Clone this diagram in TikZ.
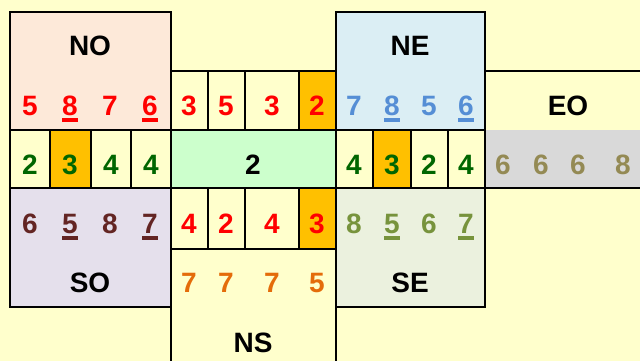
\documentclass[tikz,border=0pt]{standalone}
\usepackage{fontspec}
\setmainfont{Liberation Sans}
\definecolor{paper}{HTML}{FFFFCC}
\definecolor{nofill}{HTML}{FDE9D9}
\definecolor{nefill}{HTML}{DBEEF4}
\definecolor{sofill}{HTML}{E5E0EC}
\definecolor{sefill}{HTML}{EBF1DE}
\definecolor{midfill}{HTML}{CCFFCC}
\definecolor{hit}{HTML}{FFC000}
\definecolor{eofill}{HTML}{D9D9D9}
\definecolor{nored}{HTML}{FF0000}
\definecolor{leaf}{HTML}{006600}
\definecolor{neblue}{HTML}{558ED5}
\definecolor{sobrown}{HTML}{632523}
\definecolor{seolive}{HTML}{77933C}
\definecolor{eokhaki}{HTML}{948A54}
\definecolor{nsorange}{HTML}{E46C0A}
\newcommand\ulnum[1]{\setbox0=\hbox{#1}\rlap{\rule[-6.5pt]{\wd0}{3.5pt}}\box0}
\tikzset{
  cell/.style={draw=black, line width=2.2pt, fill=#1},
  cell/.default=paper,
  edge/.style={draw=black, line width=2.2pt},
  num/.style={anchor=base, inner sep=0pt, text=#1, font=\fontsize{28}{30}\selectfont\bfseries},
  num/.default=black,
  lbl/.style={anchor=base, inner sep=0pt, font=\fontsize{28}{30}\selectfont\bfseries}
}
\begin{document}
\begin{tikzpicture}[x=1pt,y=-1pt]
    \useasboundingbox (0,0) rectangle (640,361);
    \fill[paper] (0,0) rectangle (640,361);
    % east strip
    \fill[eofill] (485,130) rectangle (640,188);
    \draw[edge] (485,71) -- (640,71);
    \draw[edge] (485,188) -- (640,188);
    \draw[edge] (171,249) -- (171,366);
    \draw[edge] (336,249) -- (336,366);
    % corner boxes
    \draw[cell=nofill] (10,12) rectangle (171,130);
    \draw[cell=nefill] (336,12) rectangle (485,130);
    \draw[cell=sofill] (10,188) rectangle (171,307);
    \draw[cell=sefill] (336,188) rectangle (485,307);
    % north row
    \draw[cell] (171,71) rectangle (208,130);
    \draw[cell] (208,71) rectangle (245,130);
    \draw[cell] (245,71) rectangle (299,130);
    \draw[cell=hit] (299,71) rectangle (336,130);
    % west row
    \draw[cell] (10,130) rectangle (50,188);
    \draw[cell=hit] (50,130) rectangle (91,188);
    \draw[cell] (91,130) rectangle (131,188);
    \draw[cell] (131,130) rectangle (171,188);
    % centre
    \draw[cell=midfill] (171,130) rectangle (336,188);
    % east row
    \draw[cell] (336,130) rectangle (373,188);
    \draw[cell=hit] (373,130) rectangle (411,188);
    \draw[cell] (411,130) rectangle (448,188);
    \draw[cell] (448,130) rectangle (485,188);
    % south row
    \draw[cell] (171,188) rectangle (208,249);
    \draw[cell] (208,188) rectangle (245,249);
    \draw[cell] (245,188) rectangle (299,249);
    \draw[cell=hit] (299,188) rectangle (336,249);

    % labels
    \node[lbl] (no) at (90,56) {NO};
    \node[lbl] (ne) at (410,56) {NE};
    \node[lbl] (eo) at (568,115) {EO};
    \node[lbl] (so) at (90,292) {SO};
    \node[lbl] (se) at (410,292) {SE};
    \node[lbl] (ns) at (253,352) {NS};

    % NO
    \node[num=nored] (no1) at (30,115) {5};
    \node[num=nored] (no2) at (70,115) {\ulnum{8}};
    \node[num=nored] (no3) at (110,115) {7};
    \node[num=nored] (no4) at (150,115) {\ulnum{6}};
    % north row
    \node[num=nored] (n1) at (189,115) {3};
    \node[num=nored] (n2) at (226,115) {5};
    \node[num=nored] (n3) at (272,115) {3};
    \node[num=nored] (n4) at (317,115) {2};
    % NE
    \node[num=neblue] (ne1) at (354,115) {7};
    \node[num=neblue] (ne2) at (392,115) {\ulnum{8}};
    \node[num=neblue] (ne3) at (429,115) {5};
    \node[num=neblue] (ne4) at (466,115) {\ulnum{6}};
    % west row
    \node[num=leaf] (w1) at (30,174) {2};
    \node[num=leaf] (w2) at (70,174) {3};
    \node[num=leaf] (w3) at (111,174) {4};
    \node[num=leaf] (w4) at (151,174) {4};
    % centre
    \node[num] (c) at (253,174) {2};
    % east row
    \node[num=leaf] (e1) at (354,174) {4};
    \node[num=leaf] (e2) at (392,174) {3};
    \node[num=leaf] (e3) at (429,174) {2};
    \node[num=leaf] (e4) at (466,174) {4};
    % EO
    \node[num=eokhaki] (eo1) at (503,174) {6};
    \node[num=eokhaki] (eo2) at (541,174) {6};
    \node[num=eokhaki] (eo3) at (578,174) {6};
    \node[num=eokhaki] (eo4) at (623,174) {8};
    % SO
    \node[num=sobrown] (so1) at (30,233) {6};
    \node[num=sobrown] (so2) at (70,233) {\ulnum{5}};
    \node[num=sobrown] (so3) at (110,233) {8};
    \node[num=sobrown] (so4) at (150,233) {\ulnum{7}};
    % south row
    \node[num=nored] (s1) at (189,233) {4};
    \node[num=nored] (s2) at (226,233) {2};
    \node[num=nored] (s3) at (272,233) {4};
    \node[num=nored] (s4) at (317,233) {3};
    % SE
    \node[num=seolive] (se1) at (354,233) {8};
    \node[num=seolive] (se2) at (392,233) {\ulnum{5}};
    \node[num=seolive] (se3) at (429,233) {6};
    \node[num=seolive] (se4) at (466,233) {\ulnum{7}};
    % NS
    \node[num=nsorange] (ns1) at (189,292) {7};
    \node[num=nsorange] (ns2) at (226,292) {7};
    \node[num=nsorange] (ns3) at (272,292) {7};
    \node[num=nsorange] (ns4) at (317,292) {5};
\end{tikzpicture}
\end{document}
